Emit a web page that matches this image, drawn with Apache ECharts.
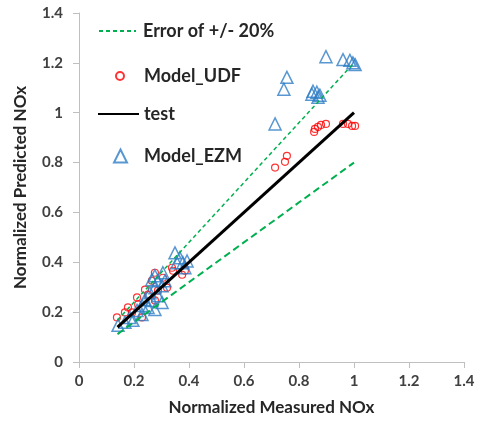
<!DOCTYPE html>
<html>
<head>
<meta charset="utf-8">
<script src="https://cdn.jsdelivr.net/npm/echarts@6/dist/echarts.min.js"></script>
<style>
  html, body { margin: 0; padding: 0; background: #fff; }
  #chart { width: 481px; height: 421px; }
</style>
</head>
<body>
<div id="chart"></div>
<script>
// Model_UDF: [measured, predicted]
const udfPoints = [
  [0.138, 0.179], [0.167, 0.199], [0.178, 0.219], [0.193, 0.199], [0.211, 0.259],
  [0.215, 0.231], [0.229, 0.179], [0.240, 0.290], [0.251, 0.270], [0.265, 0.326],
  [0.276, 0.358], [0.276, 0.247], [0.287, 0.286], [0.305, 0.338], [0.320, 0.298],
  [0.338, 0.378], [0.342, 0.366], [0.375, 0.350], [0.385, 0.366],
  [0.713, 0.780], [0.749, 0.803], [0.756, 0.827],
  [0.855, 0.923], [0.858, 0.935], [0.869, 0.943], [0.880, 0.951], [0.898, 0.955],
  [0.960, 0.955], [0.978, 0.955], [0.993, 0.947], [1.004, 0.947]
];

// Model_EZM: [measured, predicted]
const ezmPoints = [
  [0.142, 0.147], [0.167, 0.159], [0.185, 0.179], [0.196, 0.167], [0.211, 0.207],
  [0.229, 0.227], [0.229, 0.191], [0.240, 0.250], [0.251, 0.219], [0.258, 0.278],
  [0.265, 0.330], [0.265, 0.247], [0.276, 0.346], [0.276, 0.298], [0.276, 0.211],
  [0.287, 0.326], [0.287, 0.266], [0.302, 0.306], [0.302, 0.239], [0.305, 0.358],
  [0.313, 0.326], [0.349, 0.438], [0.356, 0.398], [0.367, 0.418], [0.378, 0.398],
  [0.385, 0.378], [0.393, 0.405],
  [0.713, 0.955], [0.745, 1.094], [0.756, 1.142],
  [0.847, 1.074], [0.851, 1.086], [0.865, 1.082], [0.869, 1.062], [0.876, 1.070],
  [0.898, 1.225], [0.960, 1.213], [0.985, 1.210], [0.996, 1.200], [1.004, 1.193]
];

// Reference lines: parity (test) and +/- 20 % bounds
const testLine = [[0.14, 0.14], [1.0, 1.0]];
const upperBound = [[0.14, 0.168], [1.0, 1.2]];
const lowerBound = [[0.14, 0.112], [1.0, 0.8]];

const axisTicks = [0, 0.2, 0.4, 0.6, 0.8, 1, 1.2, 1.4];

const FONT = 'Lato';
const green = '#00b050';
const red = '#ff0000';
const blue = '#2e7dc6';

const legendText = { fontFamily: FONT, fontWeight: 'bold', fontSize: 18, color: '#262626' };
const tickLabel = v => String(axisTicks.find(a => Math.abs(a - v) < 1e-9));
// line legends show only the stroke, no marker
const lineOnlyIcon = { color: 'rgba(0,0,0,0)', borderWidth: 0 };

const chart = echarts.init(document.getElementById('chart'), null, { renderer: 'canvas' });

chart.setOption({
  animation: false,
  backgroundColor: '#ffffff',
  grid: { left: 79, right: 17, top: 13, bottom: 56 },
  xAxis: {
    type: 'value', min: 0, max: 1.4, interval: 0.2,
    name: 'Normalized Measured NOx', nameLocation: 'middle', nameGap: 37,
    nameTextStyle: { fontFamily: FONT, fontWeight: 'bold', fontSize: 17, color: '#262626' },
    axisLine: { show: true, lineStyle: { color: '#bfbfbf', width: 1 } },
    axisTick: { show: true, length: 6, lineStyle: { color: '#bfbfbf' } },
    splitLine: { show: false },
    axisLabel: {
      margin: 12, fontFamily: FONT, fontWeight: 'bold', fontSize: 15, color: '#404040',
      formatter: tickLabel
    }
  },
  yAxis: {
    type: 'value', min: 0, max: 1.4, interval: 0.2,
    name: 'Normalized Predicted NOx', nameLocation: 'middle', nameGap: 50,
    nameTextStyle: { fontFamily: FONT, fontWeight: 'bold', fontSize: 17, color: '#262626' },
    axisLine: { show: true, lineStyle: { color: '#bfbfbf', width: 1 } },
    axisTick: { show: true, length: 6, lineStyle: { color: '#bfbfbf' } },
    splitLine: { show: false },
    axisLabel: {
      margin: 16, fontFamily: FONT, fontWeight: 'bold', fontSize: 15, color: '#404040',
      formatter: tickLabel
    }
  },
  legend: [
    {
      data: ['Error of +/- 20%'], left: 98, top: 22, padding: 0,
      itemWidth: 37, itemHeight: 14, itemStyle: lineOnlyIcon,
      textStyle: Object.assign({ padding: [0, 0, 0, 2] }, legendText)
    },
    {
      data: ['Model_UDF'], left: 115, top: 67, padding: 0,
      itemWidth: 8, itemHeight: 8, textStyle: Object.assign({ padding: [0, 0, 0, 15] }, legendText)
    },
    {
      data: ['test'], left: 97, top: 105, padding: 0,
      itemWidth: 41, itemHeight: 14, itemStyle: lineOnlyIcon,
      textStyle: Object.assign({ padding: [0, 0, 0, 0] }, legendText)
    },
    {
      data: ['Model_EZM'], left: 113, top: 147, padding: 0,
      itemWidth: 13, itemHeight: 13, textStyle: Object.assign({ padding: [0, 0, 0, 12] }, legendText)
    }
  ],
  series: [
    {
      name: 'Error of +/- 20%', type: 'line', data: upperBound, symbol: 'none',
      lineStyle: { color: green, width: 1.5, type: [4, 3] }, itemStyle: { color: green }
    },
    {
      name: 'Error of +/- 20%', type: 'line', data: lowerBound, symbol: 'none',
      lineStyle: { color: green, width: 2, type: [7, 4] }, itemStyle: { color: green }
    },
    {
      name: 'Model_UDF', type: 'scatter', data: udfPoints, symbol: 'circle', symbolSize: 7,
      itemStyle: { color: 'rgba(0,0,0,0)', borderColor: red, borderWidth: 1.2 }
    },
    {
      name: 'test', type: 'line', data: testLine, symbol: 'none',
      lineStyle: { color: '#000000', width: 3 }, itemStyle: { color: '#000000' }
    },
    {
      name: 'Model_EZM', type: 'scatter', data: ezmPoints, symbol: 'triangle', symbolSize: 12,
      itemStyle: { color: 'rgba(0,0,0,0)', borderColor: blue, borderWidth: 1.5 }
    }
  ]
});
</script>
</body>
</html>
